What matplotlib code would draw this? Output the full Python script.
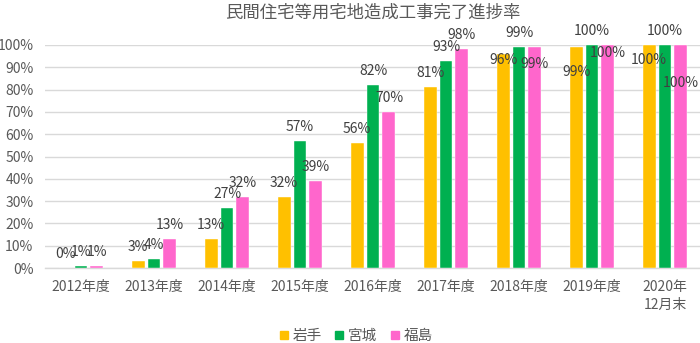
import matplotlib
matplotlib.use('Agg')
import matplotlib.pyplot as plt
from matplotlib.lines import Line2D
import numpy as np

plt.rcParams['font.family'] = ['Noto Sans CJK JP', 'DejaVu Sans']

# データ
categories = ['2012年度', '2013年度', '2014年度', '2015年度', '2016年度',
              '2017年度', '2018年度', '2019年度', '2020年\n12月末']
series_names = ['岩手', '宮城', '福島']
iwate = [0, 3, 13, 32, 56, 81, 96, 99, 100]
miyagi = [1, 4, 27, 57, 82, 93, 99, 100, 100]
fukushima = [1, 13, 32, 39, 70, 98, 99, 100, 100]
yticks = list(range(0, 101, 10))

colors = ['#FFC000', '#00B050', '#FF66CC']
text_color = '#595959'

# ラベル位置の調整（px、バー上端からの距離）
default_dy = 14
label_dy = {
    (0, 6): -6, (2, 6): -17,
    (0, 7): -25, (2, 7): -8,
    (0, 8): -15, (2, 8): -38,
}

fig = plt.figure(figsize=(7.0, 3.43), dpi=100)
ax = fig.add_axes([44.5 / 700, 1 - 268 / 343, 657 / 700, 223 / 343])

x = np.arange(len(categories))
width = 0.178
offset = 0.219

for si, (name, vals) in enumerate(zip(series_names, [iwate, miyagi, fukushima])):
    pos = x + (si - 1) * offset
    ax.bar(pos, vals, width, color=colors[si], edgecolor='white', linewidth=0.3,
           zorder=3, label=name)
    for ci, v in enumerate(vals):
        dy = label_dy.get((si, ci), default_dy)
        ax.annotate(f'{v}%', (pos[ci], v), xytext=(0, dy * 0.72),
                    textcoords='offset points', ha='center', va='center',
                    fontsize=10, color='#404040', zorder=5, annotation_clip=False)

ax.set_xlim(-0.5, len(categories) - 0.5)
ax.set_ylim(0, 100)
ax.set_yticks(yticks)
ax.set_yticklabels([f'{t}%' for t in yticks])
ax.set_xticks(x)
ax.set_xticklabels(categories, linespacing=1.3)
ax.tick_params(axis='both', length=0, labelsize=10, colors=text_color)
ax.tick_params(axis='y', pad=8)
ax.tick_params(axis='x', pad=9)
ax.grid(axis='y', color='#D9D9D9', linewidth=1.0, zorder=0)
for s in ['top', 'right', 'left']:
    ax.spines[s].set_visible(False)
ax.spines['bottom'].set_color('#D9D9D9')
ax.spines['bottom'].set_linewidth(1.0)

fig.text(373 / 700, 1 - 13 / 343, '民間住宅等用宅地造成工事完了進捗率',
         ha='center', va='center', fontsize=12.5, color=text_color)

handles = [Line2D([], [], marker='s', linestyle='', markersize=6,
                  markerfacecolor=c, markeredgecolor=c) for c in colors]
fig.legend(handles, series_names, loc='center', bbox_to_anchor=(356 / 700, 1 - 336 / 343),
           ncol=3, frameon=False, fontsize=10.5, labelcolor=text_color,
           handlelength=0.6, handletextpad=0.3, columnspacing=0.9, borderpad=0)

fig.savefig('out.png', dpi=100)
